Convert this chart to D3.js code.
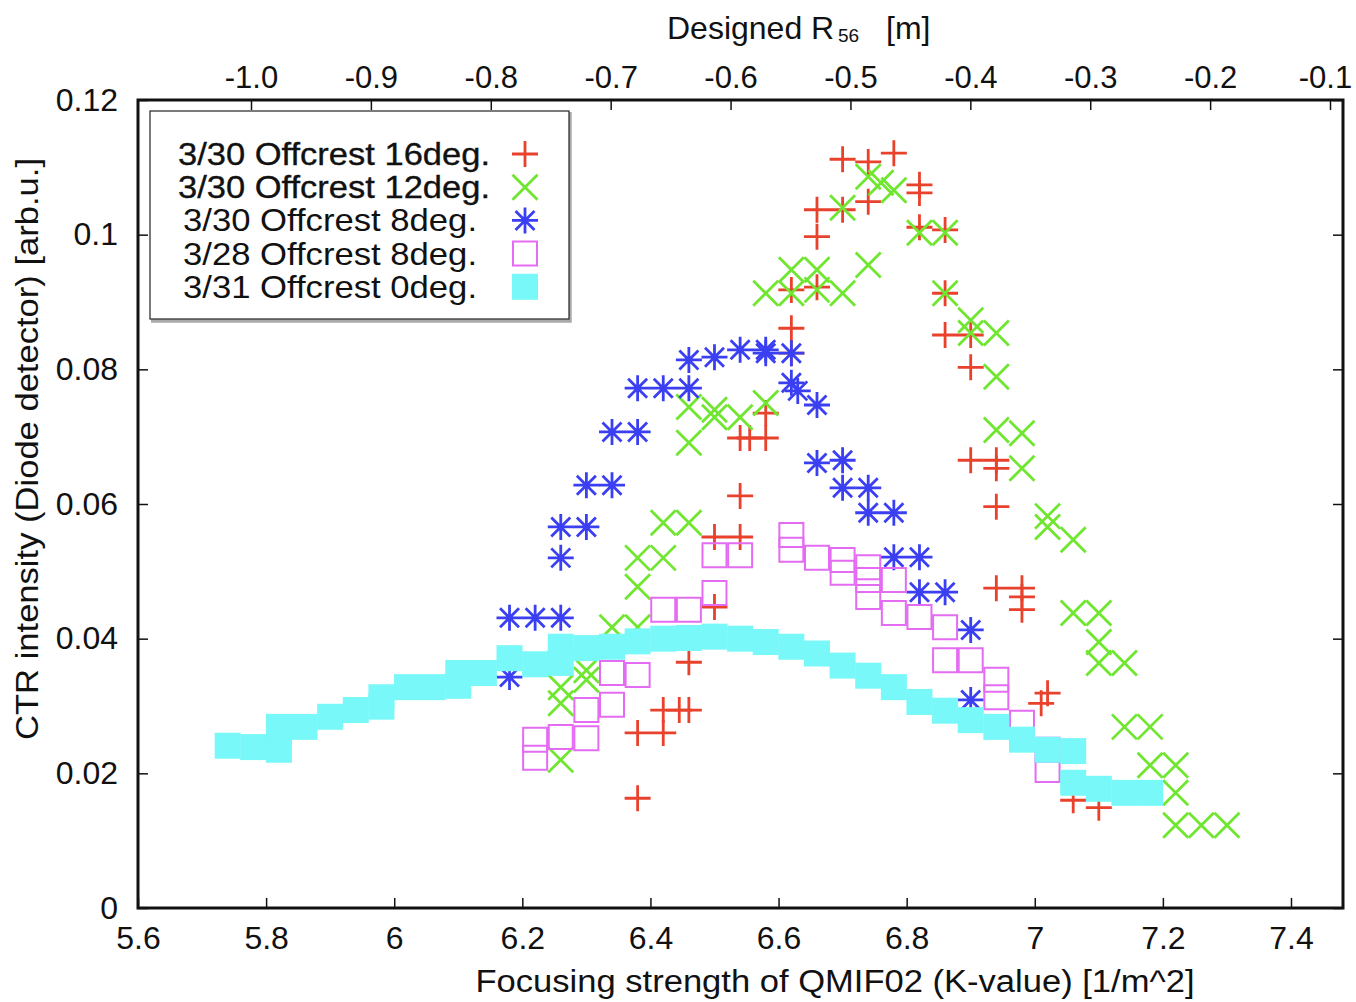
<!DOCTYPE html>
<html><head><meta charset="utf-8">
<script src="https://cdn.jsdelivr.net/npm/d3@7"></script>
<style>body{margin:0;background:#fff}svg text{font-family:"Liberation Sans",Arial,Helvetica,sans-serif;fill:#111}</style>
</head><body><svg id="c" width="1356" height="1002"></svg>
<script>
// ---- data ----
const xTicks = [5.6, 5.8, 6, 6.2, 6.4, 6.6, 6.8, 7, 7.2, 7.4];
const yTicks = [0, 0.02, 0.04, 0.06, 0.08, 0.1, 0.12];
const x2Ticks = [-1.0, -0.9, -0.8, -0.7, -0.6, -0.5, -0.4, -0.3, -0.2, -0.1];
const seriesLabels = ["3/30 Offcrest 16deg.", "3/30 Offcrest 12deg.", "3/30 Offcrest 8deg.", "3/28 Offcrest 8deg.", "3/31 Offcrest 0deg."];

const red16 = [[6.70,0.1112],[6.74,0.1108],[6.78,0.1121],[6.74,0.1049],[6.82,0.1074],[6.82,0.1062],[6.66,0.1037],[6.70,0.1037],[6.66,0.0997],[6.82,0.1011],[6.86,0.1007],[6.66,0.0922],[6.62,0.0918],[6.86,0.0913],[6.62,0.0861],[6.86,0.0851],[6.90,0.0851],[6.90,0.0803],[6.62,0.0824],[6.58,0.0735],[6.54,0.0698],[6.555,0.0698],[6.58,0.0698],[6.54,0.0612],[6.50,0.0551],[6.54,0.0551],[6.50,0.0447],[6.46,0.0365],[6.42,0.0294],[6.445,0.0294],[6.46,0.0294],[6.38,0.0260],[6.42,0.0260],[6.38,0.0163],[6.90,0.0665],[6.94,0.0665],[6.94,0.0653],[6.94,0.0596],[6.94,0.0475],[6.98,0.0475],[6.98,0.0462],[6.98,0.0443],[7.02,0.0319],[7.01,0.0304],[7.06,0.0160],[7.10,0.0149]];
const green12 = [[6.74,0.1086],[6.76,0.1077],[6.78,0.1066],[6.70,0.1040],[6.82,0.1003],[6.86,0.1003],[6.62,0.0948],[6.66,0.0948],[6.74,0.0955],[6.58,0.0913],[6.62,0.0913],[6.66,0.0918],[6.70,0.0913],[6.86,0.0913],[6.90,0.0873],[6.90,0.0854],[6.94,0.0854],[6.94,0.0789],[6.94,0.0710],[6.98,0.0705],[6.98,0.0653],[7.02,0.0582],[7.02,0.0566],[7.06,0.0547],[7.06,0.0438],[7.10,0.0438],[7.10,0.0395],[7.10,0.0364],[7.14,0.0364],[7.14,0.0269],[7.18,0.0269],[7.18,0.0212],[7.22,0.0212],[7.22,0.0171],[7.22,0.0123],[7.26,0.0123],[7.30,0.0123],[6.58,0.0750],[6.46,0.0744],[6.50,0.0740],[6.50,0.0729],[6.54,0.0729],[6.46,0.0691],[6.42,0.0572],[6.46,0.0572],[6.38,0.0520],[6.42,0.0520],[6.38,0.0477],[6.34,0.0417],[6.38,0.0417],[6.30,0.0353],[6.30,0.0339],[6.26,0.0328],[6.26,0.0304],[6.26,0.0220]];
const blue8 = [[6.34,0.0707],[6.38,0.0707],[6.38,0.0772],[6.42,0.0772],[6.46,0.0772],[6.46,0.0814],[6.50,0.0818],[6.54,0.0829],[6.58,0.0829],[6.58,0.0824],[6.62,0.0824],[6.62,0.0780],[6.63,0.0768],[6.66,0.0747],[6.66,0.0661],[6.70,0.0665],[6.70,0.0624],[6.74,0.0624],[6.74,0.0587],[6.78,0.0587],[6.78,0.0521],[6.82,0.0521],[6.82,0.0469],[6.86,0.0469],[6.90,0.0413],[6.90,0.0309],[6.30,0.0628],[6.34,0.0628],[6.26,0.0566],[6.30,0.0566],[6.26,0.0520],[6.18,0.0431],[6.22,0.0431],[6.26,0.0431],[6.18,0.0343]];
const magenta8 = [[6.22,0.0250],[6.22,0.0223],[6.26,0.0254],[6.30,0.0252],[6.30,0.0294],[6.34,0.0302],[6.34,0.0349],[6.38,0.0346],[6.42,0.0443],[6.46,0.0443],[6.50,0.0468],[6.50,0.0524],[6.54,0.0524],[6.62,0.0554],[6.62,0.0532],[6.66,0.0520],[6.70,0.0517],[6.70,0.0498],[6.74,0.0506],[6.74,0.0487],[6.74,0.0462],[6.78,0.0487],[6.78,0.0438],[6.82,0.0432],[6.86,0.0417],[6.86,0.0368],[6.90,0.0368],[6.94,0.0339],[6.94,0.0313],[6.98,0.0275],[7.02,0.0235],[7.02,0.0205]];
const cyan0 = [[5.74,0.0241],[5.78,0.0239],[5.82,0.0235],[5.82,0.0269],[5.86,0.0269],[5.90,0.0284],[5.94,0.0294],[5.98,0.0313],[5.98,0.0299],[6.02,0.0328],[6.06,0.0328],[6.10,0.0349],[6.10,0.0330],[6.14,0.0349],[6.18,0.0371],[6.22,0.0362],[6.26,0.0388],[6.26,0.0364],[6.30,0.0386],[6.34,0.0388],[6.38,0.0396],[6.42,0.0400],[6.46,0.0401],[6.50,0.0403],[6.54,0.0400],[6.58,0.0395],[6.62,0.0388],[6.66,0.0378],[6.70,0.0360],[6.74,0.0345],[6.78,0.0328],[6.82,0.0306],[6.86,0.0293],[6.90,0.0279],[6.94,0.0269],[6.98,0.0250],[7.02,0.0235],[7.06,0.0233],[7.06,0.0186],[7.10,0.0177],[7.14,0.0171],[7.18,0.0171]];

// ---- layout ----
const L = 138, R = 1343, T = 100, B = 908;
const svg = d3.select("#c");
const x = d3.scaleLinear().domain([5.6, 7.4812]).range([L, R]);
const x2 = d3.scaleLinear().domain([-1.0, -0.1]).range([251, 1330]);
const y = d3.scaleLinear().domain([0, 0.12]).range([B, T]);

const colors = ["#e8412c", "#6fe62f", "#3a3ff2", "#e46cf2", "#78f8f8"];
const S = 13;
const shapes = [
  `M${-S},0H${S}M0,${-S}V${S}`,
  `M-12.5,-12.5L12.5,12.5M-12.5,12.5L12.5,-12.5`,
  `M${-S},0H${S}M0,${-S}V${S}M-9.5,-9.5L9.5,9.5M-9.5,9.5L9.5,-9.5`,
  `M-12,-12H12V12H-12Z`,
  `M-13,-13H13V13H-13Z`
];
const series = [red16, green12, blue8, magenta8, cyan0];

function styleMarker(sel, i) {
  sel.attr("d", shapes[i]);
  if (i === 4) sel.attr("fill", colors[i]).attr("stroke", "none");
  else sel.attr("fill", "none").attr("stroke", colors[i]).attr("stroke-width", i === 3 ? 2 : 2.8);
}

// points
series.forEach((data, i) => {
  const g = svg.append("g");
  g.selectAll("path").data(data).join("path")
    .attr("transform", d => `translate(${x(d[0])},${y(d[1])})`)
    .call(styleMarker, i);
});

// axes
function styleAxis(g, fs) {
  g.select(".domain").remove();
  g.selectAll("line").attr("stroke", "#111").attr("stroke-width", 1.5);
  g.selectAll("text").attr("font-size", fs);
  g.attr("font-family", null);
}
svg.append("g").attr("transform", `translate(0,${B})`)
  .call(d3.axisBottom(x).tickValues(xTicks).tickFormat(d => String(d)).tickSizeInner(-10).tickSizeOuter(0).tickPadding(18))
  .call(styleAxis, 32);
svg.append("g").attr("transform", `translate(${L},0)`)
  .call(d3.axisLeft(y).tickValues(yTicks).tickFormat(d => String(d)).tickSizeInner(-10).tickSizeOuter(0).tickPadding(20))
  .call(styleAxis, 32);
svg.append("g").attr("transform", `translate(${R},0)`)
  .call(d3.axisLeft(y).tickValues(yTicks).tickFormat("").tickSizeInner(10).tickSizeOuter(0))
  .call(styleAxis, 32);
const topAx = svg.append("g").attr("transform", `translate(0,${T})`)
  .call(d3.axisTop(x2).tickValues(x2Ticks).tickFormat(d => d.toFixed(1)).tickSizeInner(-10).tickSizeOuter(0).tickPadding(12))
  .call(styleAxis, 31);
topAx.selectAll("text").filter(d => d === -0.1).attr("dx", -5);

// frame
svg.append("rect").attr("x", L).attr("y", T).attr("width", R - L).attr("height", B - T)
  .attr("fill", "none").attr("stroke", "#111").attr("stroke-width", 3);

// legend
const lg = svg.append("g");
lg.append("path").attr("d", "M570,112V321H151").attr("fill", "none").attr("stroke", "#aaa").attr("stroke-width", 3.5);
lg.append("rect").attr("x", 150).attr("y", 111).attr("width", 419).attr("height", 208)
  .attr("fill", "#fff").attr("stroke", "#222").attr("stroke-width", 1.2);
const legX = [178, 178, 183, 183, 183];
const legW = [312, 312, 294, 294, 294];
seriesLabels.forEach((lab, i) => {
  const cy = 154 + i * 33.2;
  const t = lg.append("text").attr("x", legX[i]).attr("y", cy + 11).attr("font-size", 32)
    .attr("textLength", legW[i]).attr("lengthAdjust", "spacingAndGlyphs").text(lab);
  if (i < 2) t.attr("stroke", "#111").attr("stroke-width", 0.35);
  lg.append("path").attr("transform", `translate(525,${cy})`).call(styleMarker, i);
});

// axis titles
svg.append("text").attr("x", 835).attr("y", 992).attr("text-anchor", "middle").attr("font-size", 31)
  .attr("textLength", 719).attr("lengthAdjust", "spacingAndGlyphs")
  .text("Focusing strength of QMIF02 (K-value) [1/m^2]");
svg.append("text").attr("transform", "translate(38,449) rotate(-90)").attr("text-anchor", "middle").attr("font-size", 31)
  .attr("textLength", 582).attr("lengthAdjust", "spacingAndGlyphs")
  .text("CTR intensity (Diode detector) [arb.u.]");
svg.append("text").attr("x", 667).attr("y", 39).attr("font-size", 32).text("Designed R");
svg.append("text").attr("x", 838).attr("y", 42).attr("font-size", 19).text("56");
svg.append("text").attr("x", 886).attr("y", 39).attr("font-size", 32).text("[m]");
</script></body></html>
